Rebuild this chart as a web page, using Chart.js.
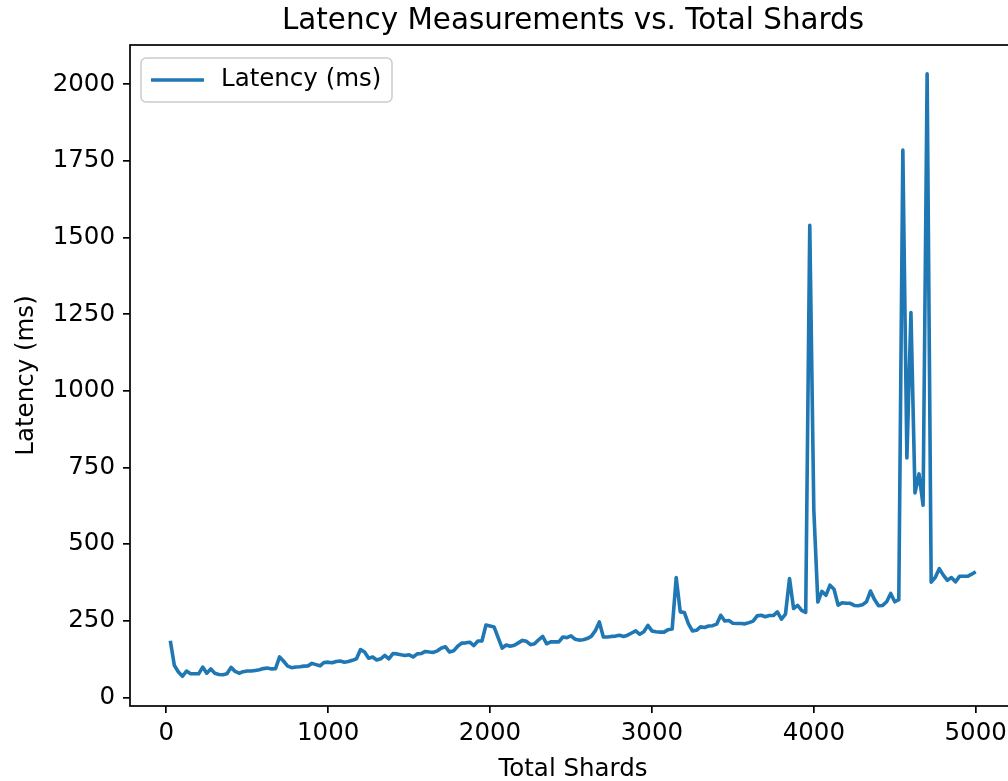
<!DOCTYPE html>
<html>
<head>
<meta charset="utf-8">
<script src="https://cdn.jsdelivr.net/npm/chart.js@4.4.0/dist/chart.umd.min.js"></script>
<style>
  html, body { margin: 0; padding: 0; overflow: hidden; background: #fff; }
  #wrap { position: absolute; left: 0; top: 0; }
</style>
</head>
<body>
<div id="wrap"><canvas id="chart" width="1016" height="781"></canvas></div>
<script>
// total shards (x) and measured latency (ms)
const shards = [
  25, 50, 75, 100, 125, 150, 175, 200, 225, 250, 275, 300, 325, 350, 375, 400, 425, 450, 475, 500,
  525, 550, 575, 600, 625, 650, 675, 700, 725, 750, 775, 800, 825, 850, 875, 900, 925, 950, 975, 1000,
  1025, 1050, 1075, 1100, 1125, 1150, 1175, 1200, 1225, 1250, 1275, 1300, 1325, 1350, 1375, 1400, 1425, 1450, 1475, 1500,
  1525, 1550, 1575, 1600, 1625, 1650, 1675, 1700, 1725, 1750, 1775, 1800, 1825, 1850, 1875, 1900, 1925, 1950, 1975, 2000,
  2025, 2050, 2075, 2100, 2125, 2150, 2175, 2200, 2225, 2250, 2275, 2300, 2325, 2350, 2375, 2400, 2425, 2450, 2475, 2500,
  2525, 2550, 2575, 2600, 2625, 2650, 2675, 2700, 2725, 2750, 2775, 2800, 2825, 2850, 2875, 2900, 2925, 2950, 2975, 3000,
  3025, 3050, 3075, 3100, 3125, 3150, 3175, 3200, 3225, 3250, 3275, 3300, 3325, 3350, 3375, 3400, 3425, 3450, 3475, 3500,
  3525, 3550, 3575, 3600, 3625, 3650, 3675, 3700, 3725, 3750, 3775, 3800, 3825, 3850, 3875, 3900, 3925, 3950, 3975, 4000,
  4025, 4050, 4075, 4100, 4125, 4150, 4175, 4200, 4225, 4250, 4275, 4300, 4325, 4350, 4375, 4400, 4425, 4450, 4475, 4500,
  4525, 4550, 4575, 4600, 4625, 4650, 4675, 4700, 4725, 4750, 4775, 4800, 4825, 4850, 4875, 4900, 4925, 4950, 4975, 5000
];
const latency = [
  185, 104, 83, 69, 86, 77, 77, 77, 99, 79, 93, 79, 75, 74, 77, 98, 85, 79, 84, 86,
  86, 88, 90, 94, 96, 93, 94, 132, 118, 102, 97, 99, 100, 102, 103, 111, 107, 103, 114, 115,
  113, 117, 119, 115, 117, 121, 126, 156, 148, 128, 132, 122, 126, 137, 126, 143, 142, 139, 137, 139,
  132, 142, 143, 150, 148, 147, 152, 161, 165, 148, 152, 167, 177, 178, 180, 169, 184, 184, 236, 233,
  230, 195, 161, 171, 167, 170, 178, 186, 183, 172, 175, 188, 199, 175, 181, 181, 181, 197, 195, 201,
  190, 187, 188, 192, 199, 217, 246, 197, 197, 199, 200, 203, 199, 203, 210, 217, 206, 214, 235, 217,
  214, 213, 213, 221, 223, 391, 279, 277, 241, 217, 219, 230, 228, 233, 234, 239, 268, 249, 251, 242,
  241, 241, 240, 244, 249, 266, 268, 263, 267, 267, 279, 255, 272, 388, 290, 300, 284, 277, 1540, 612,
  311, 346, 333, 366, 353, 301, 309, 307, 307, 300, 299, 302, 312, 347, 319, 299, 300, 312, 339, 312,
  319, 1785, 781, 1255, 667, 729, 627, 2034, 376, 391, 420, 399, 382, 391, 377, 395, 395, 395, 402, 410
];
const xTicks = [0, 1000, 2000, 3000, 4000, 5000];
const yTicks = [0, 250, 500, 750, 1000, 1250, 1500, 1750, 2000];
const chartTitle = 'Latency Measurements vs. Total Shards';

const FONT = "'DejaVu Sans', sans-serif";
const BLUE = '#1f77b4';

// frame, title and legend drawn like matplotlib (title centred over the axes)
const framePlugin = {
  id: 'frame',
  afterDraw(chart) {
    const { ctx, chartArea: a } = chart;
    ctx.save();
    ctx.strokeStyle = '#000';
    ctx.lineWidth = 1.7;
    ctx.strokeRect(a.left, a.top, a.right - a.left, a.bottom - a.top);

    ctx.fillStyle = '#000';
    ctx.font = '29.4px ' + FONT;
    ctx.textAlign = 'center';
    ctx.textBaseline = 'middle';
    ctx.fillText(chartTitle, (a.left + a.right) / 2, 21);

    // legend box
    const bx = 141, by = 58, bw = 251, bh = 44, r = 5;
    ctx.fillStyle = 'rgba(255,255,255,0.8)';
    ctx.strokeStyle = '#cccccc';
    ctx.lineWidth = 1.5;
    ctx.beginPath();
    ctx.roundRect(bx, by, bw, bh, r);
    ctx.fill();
    ctx.stroke();
    ctx.strokeStyle = BLUE;
    ctx.lineWidth = 3.6;
    ctx.beginPath();
    ctx.moveTo(151, 80);
    ctx.lineTo(204, 80);
    ctx.stroke();
    ctx.fillStyle = '#000';
    ctx.font = '24.5px ' + FONT;
    ctx.textAlign = 'left';
    ctx.fillText(chart.data.datasets[0].label, 221, 80);
    ctx.restore();
  }
};

new Chart(document.getElementById('chart'), {
  type: 'line',
  data: {
    datasets: [{
      label: 'Latency (ms)',
      data: shards.map((s, i) => ({ x: s, y: latency[i] })),
      borderColor: BLUE,
      borderWidth: 3.6,
      pointRadius: 0,
      tension: 0,
      borderJoinStyle: 'round',
      fill: false
    }]
  },
  options: {
    responsive: false,
    animation: false,
    layout: { padding: { top: 45, left: 0, right: 0, bottom: 0 } },
    plugins: {
      legend: { display: false },
      tooltip: { enabled: false },
      title: { display: false }
    },
    scales: {
      x: {
        type: 'linear',
        min: -224,
        max: 5249,
        afterBuildTicks: s => { s.ticks = xTicks.map(v => ({ value: v })); },
        afterFit: s => { s.height = 75; },
        border: { display: false },
        grid: { drawOnChartArea: false, drawTicks: true, tickLength: 7, tickColor: '#000', lineWidth: 1.7 },
        ticks: { color: '#000', font: { family: FONT, size: 24.5 }, padding: 6, maxRotation: 0, callback: v => String(v) },
        title: { display: true, text: 'Total Shards', color: '#000', font: { family: FONT, size: 24.5 }, padding: { top: 0, bottom: -3 } }
      },
      y: {
        type: 'linear',
        min: -28,
        max: 2128,
        afterBuildTicks: s => { s.ticks = yTicks.map(v => ({ value: v })); },
        afterFit: s => { s.width = 130; },
        border: { display: false },
        grid: { drawOnChartArea: false, drawTicks: true, tickLength: 7, tickColor: '#000', lineWidth: 1.7 },
        ticks: { color: '#000', font: { family: FONT, size: 24.5 }, padding: 8, callback: v => String(v) },
        title: { display: true, text: 'Latency (ms)', color: '#000', font: { family: FONT, size: 24.5 }, padding: { top: 12, bottom: 0 } }
      }
    }
  },
  plugins: [framePlugin]
});
</script>
</body>
</html>
